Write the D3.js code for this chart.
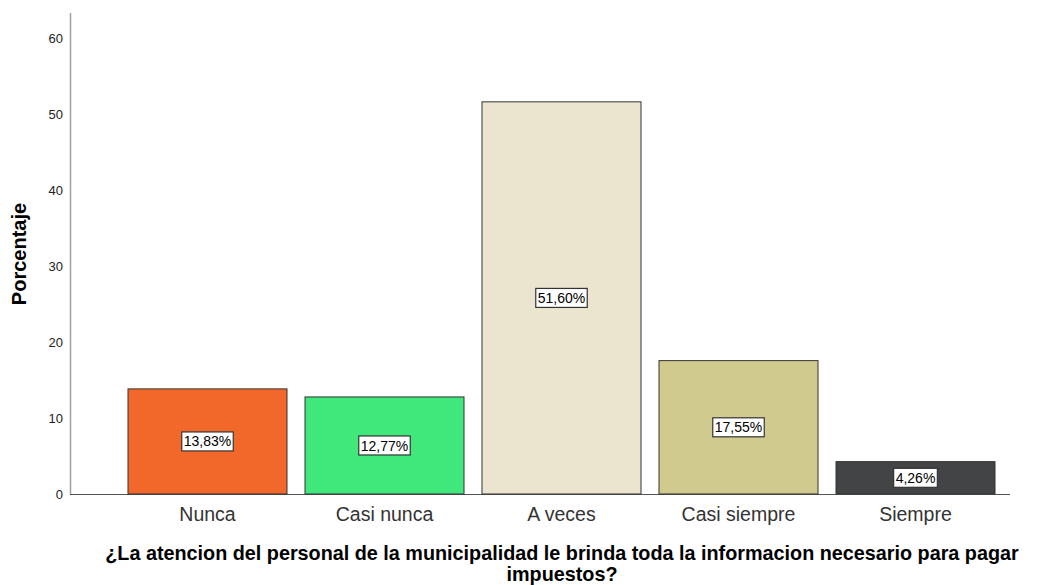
<!DOCTYPE html>
<html>
<head>
<meta charset="utf-8">
<script src="https://cdn.jsdelivr.net/npm/d3@7"></script>
<style>
  body { margin: 0; background: white; }
  text { font-family: "Liberation Sans", Arial, sans-serif; }
</style>
</head>
<body>
<div id="chart"></div>
<script>
"use strict"

const categories = ["Nunca", "Casi nunca", "A veces", "Casi siempre", "Siempre"];
const percents = [13.83, 12.77, 51.60, 17.55, 4.26];
const barColors = ["#f2682a", "#40e87c", "#ebe4cf", "#d0ca8e", "#434446"];
const yTicks = [0, 10, 20, 30, 40, 50, 60];

const width = 1040, height = 585;

const svg = d3.select("#chart").append("svg")
  .attr("width", width)
  .attr("height", height)
  .style("background", "white");

const y = d3.scaleLinear()
  .domain([0, 60])
  .range([494, 38]);

const x = d3.scaleBand()
  .domain(categories)
  .range([119, 1004])
  .paddingInner(18 / 177)
  .paddingOuter(9 / 177);

// axes lines
svg.append("line")
  .attr("x1", 70.5).attr("x2", 70.5)
  .attr("y1", 13).attr("y2", y(0))
  .style("stroke", "#a0a0a0")
  .style("stroke-width", 1.5);

svg.append("line")
  .attr("x1", 70).attr("x2", 1010)
  .attr("y1", y(0) + 0.5).attr("y2", y(0) + 0.5)
  .style("stroke", "#555")
  .style("stroke-width", 1.2);

// y tick labels
svg.selectAll(".ytick")
  .data(yTicks)
  .enter().append("text")
  .attr("class", "ytick")
  .attr("x", 63)
  .attr("y", d => y(d))
  .attr("dy", "0.35em")
  .attr("text-anchor", "end")
  .style("font-size", "13px")
  .style("fill", "#222")
  .text(d => d);

// bars
svg.selectAll(".bar")
  .data(percents)
  .enter().append("rect")
  .attr("class", "bar")
  .attr("x", (d, i) => x(categories[i]))
  .attr("y", d => y(d))
  .attr("width", x.bandwidth())
  .attr("height", d => y(0) - y(d))
  .style("fill", (d, i) => barColors[i])
  .style("stroke", "#333")
  .style("stroke-width", 1);

// value labels, boxed, at half the bar height
const fmt = d => d.toFixed(2).replace(".", ",") + "%";
const labels = svg.selectAll(".vlabel")
  .data(percents)
  .enter().append("g")
  .attr("class", "vlabel")
  .attr("transform", (d, i) => "translate(" + (x(categories[i]) + x.bandwidth() / 2) + "," + y(d / 2) + ")");

labels.append("text")
  .attr("text-anchor", "middle")
  .attr("dy", "0.36em")
  .style("font-size", "14px")
  .style("fill", "#000")
  .text(fmt)
  .each(function() {
    const b = this.getBBox();
    d3.select(this.parentNode).insert("rect", "text")
      .attr("x", b.x - 2)
      .attr("y", -9.5)
      .attr("width", b.width + 4)
      .attr("height", 19)
      .style("fill", "white")
      .style("stroke", "#333")
      .style("stroke-width", 1.2);
  });

// category labels
svg.selectAll(".xlabel")
  .data(categories)
  .enter().append("text")
  .attr("class", "xlabel")
  .attr("x", d => x(d) + x.bandwidth() / 2)
  .attr("y", 521)
  .attr("text-anchor", "middle")
  .style("font-size", "19.5px")
  .style("fill", "#333")
  .text(d => d);

// axis titles
svg.append("text")
  .attr("transform", "translate(26,254) rotate(-90)")
  .attr("text-anchor", "middle")
  .style("font-size", "20px")
  .style("font-weight", "bold")
  .text("Porcentaje");

svg.append("text")
  .attr("x", 562)
  .attr("y", 560)
  .attr("text-anchor", "middle")
  .style("font-size", "19.8px")
  .style("font-weight", "bold")
  .text("¿La atencion del personal de la municipalidad le brinda toda la informacion necesario para pagar");

svg.append("text")
  .attr("x", 562)
  .attr("y", 581)
  .attr("text-anchor", "middle")
  .style("font-size", "19.8px")
  .style("font-weight", "bold")
  .text("impuestos?");
</script>
</body>
</html>
